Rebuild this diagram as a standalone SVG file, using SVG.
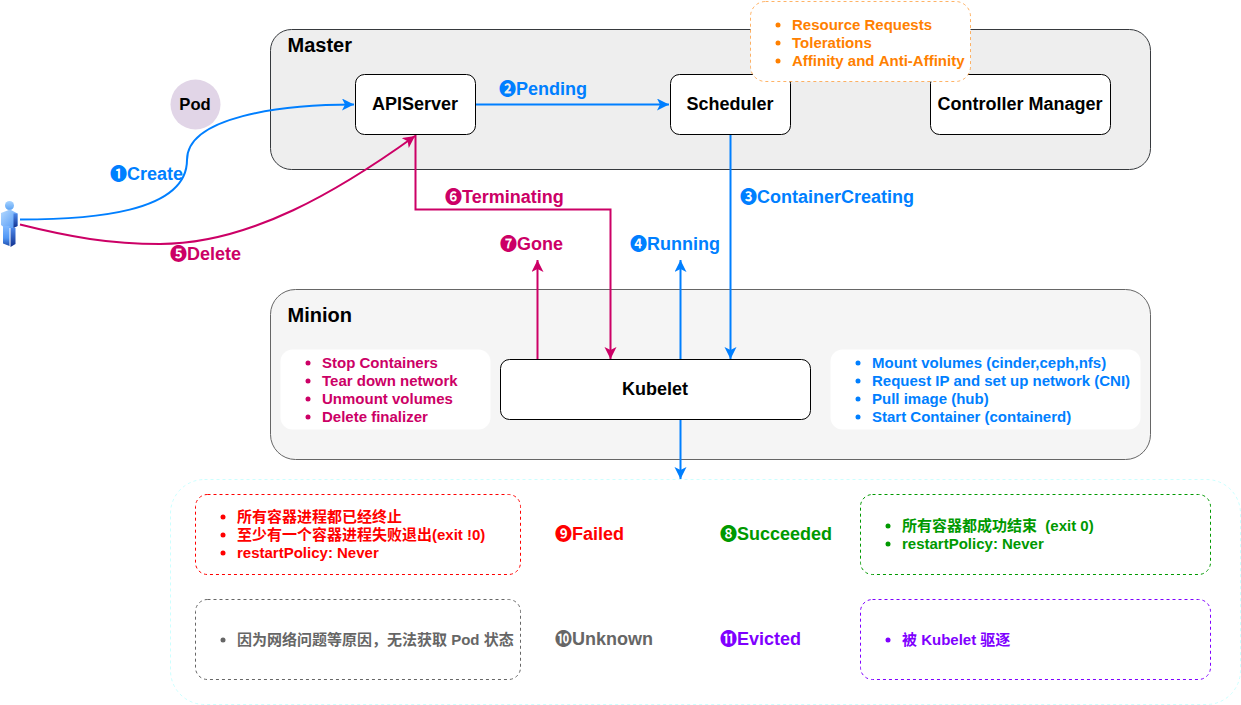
<svg xmlns="http://www.w3.org/2000/svg" width="1241" height="705" viewBox="0 0 1241 705">
<style>
text{font-family:"Liberation Sans","Noto Sans CJK SC",sans-serif;font-weight:bold}
.box{fill:#fff;stroke:#000;stroke-width:1}
.t{font-size:18px;text-anchor:middle;fill:#000}
.h{font-size:20px;fill:#000}
.l{font-size:18px}
.n{font-size:17px;font-family:"Noto Sans CJK SC",sans-serif}
.li{font-size:15px}
.c{fill:none;stroke-width:2}
.blue{fill:#007FFF}.pink{fill:#CC0066}.red{fill:#FF0000}.green{fill:#009900}.gray{fill:#666666}.purple{fill:#7F00FF}.orange{fill:#FF8000}
</style>
<defs>
<marker id="ab" markerUnits="userSpaceOnUse" markerWidth="14" markerHeight="14" refX="12" refY="6" orient="auto"><path d="M0 0L12 6L0 12L3 6Z" fill="#007FFF"/></marker>
<marker id="ap" markerUnits="userSpaceOnUse" markerWidth="14" markerHeight="14" refX="12" refY="6" orient="auto"><path d="M0 0L12 6L0 12L3 6Z" fill="#CC0066"/></marker>
<linearGradient id="pg" x1="0" y1="0" x2="1" y2="1"><stop offset="0" stop-color="#B5DAFF"/><stop offset="1" stop-color="#4F96F5"/></linearGradient>
<linearGradient id="pd" x1="0" y1="0" x2="0" y2="1"><stop offset="0" stop-color="#4C86E8"/><stop offset="1" stop-color="#10308F"/></linearGradient>
<linearGradient id="pl" x1="0" y1="0" x2="0" y2="1"><stop offset="0" stop-color="#7FB8FF"/><stop offset=".6" stop-color="#4F96F5"/><stop offset="1" stop-color="#2050B0"/></linearGradient>
<linearGradient id="ph" x1="0" y1="0" x2="0" y2="1"><stop offset="0" stop-color="#A9D4FF"/><stop offset="1" stop-color="#5BA3F5"/></linearGradient>
</defs>
<g id="master"><rect x="270.500" y="29.500" width="880" height="140" rx="21" fill="#eeeeee" stroke="#36393d"/><text class="h" x="287.500" y="52">Master</text></g>
<g id="minion"><rect x="270.500" y="289.500" width="880" height="170" rx="25" fill="#f5f5f5" stroke="#666666"/><text class="h" x="287.500" y="322">Minion</text></g>
<g id="pod"><circle cx="195.500" cy="104.500" r="25" fill="#e1d5e7"/><text x="195" y="110" class="t" style="font-size:16.600px">Pod</text></g>
<g id="user">
<circle cx="9.500" cy="205.500" r="4.500" fill="url(#ph)"/>
<path d="M1 213L10 209.500L17.500 213.500V226L13 228H5L1 225Z" fill="url(#pg)"/>
<path d="M13.500 213.500L17.500 213.500V226L13.500 228Z" fill="url(#pd)"/>
<path d="M3 226H9.500V246L3 243.500Z" fill="url(#pl)"/>
<path d="M10.500 228H15.500V244L10.500 247Z" fill="url(#pd)"/>
</g>
<g id="connectors">
<path class="c" stroke="#007FFF" d="M20 219.500C90 219.500 187 213 187 160C187 117 280 104.500 354 104.500" marker-end="url(#ab)"/>
<path class="c" stroke="#CC0066" d="M20 224.500C70 237 110 244 160 244C250 244 340 190 415 136" marker-end="url(#ap)"/>
<path class="c" stroke="#007FFF" d="M476 104.500H669" marker-end="url(#ab)"/>
<path class="c" stroke="#007FFF" d="M730.500 135V359" marker-end="url(#ab)"/>
<path class="c" stroke="#CC0066" d="M415.500 135V209.500H610.500V359" marker-end="url(#ap)"/>
<path class="c" stroke="#CC0066" d="M537.500 360V260" marker-end="url(#ap)"/>
<path class="c" stroke="#007FFF" d="M680.500 360V260" marker-end="url(#ab)"/>
<path class="c" stroke="#007FFF" d="M680.500 420V479" marker-end="url(#ab)"/>
</g>
<g id="apiserver"><rect class="box" x="355.500" y="74.500" width="120" height="60" rx="9"/><text class="t" x="415" y="110">APIServer</text></g>
<g id="scheduler"><rect class="box" x="670.500" y="74.500" width="120" height="60" rx="9"/><text class="t" x="730" y="110">Scheduler</text></g>
<g id="controller-manager"><rect class="box" x="930.500" y="74.500" width="180" height="60" rx="9"/><text class="t" x="1020" y="110">Controller Manager</text></g>
<g id="scheduler-notes"><rect x="750.500" y="1.500" width="220" height="80" rx="15" fill="#fff" stroke="#FF8000" stroke-opacity=".6" stroke-dasharray="3 3"/>
<g class="orange"><circle cx="778" cy="25" r="2.500"/><circle cx="778" cy="43" r="2.500"/><circle cx="778" cy="61" r="2.500"/>
<text class="li orange" x="792" y="30">Resource Requests</text><text class="li orange" x="792" y="48">Tolerations</text><text class="li orange" x="792" y="66" style="font-kerning:none">Affinity and Anti-Affinity</text></g></g>
<g id="kubelet"><rect class="box" x="500.500" y="359.500" width="310" height="60" rx="9"/><text class="t" x="655" y="395">Kubelet</text></g>
<g id="stop-list"><rect x="280.500" y="349.500" width="210" height="80" rx="12" fill="#fff"/>
<g class="pink"><circle cx="308" cy="363" r="2.500"/><circle cx="308" cy="381" r="2.500"/><circle cx="308" cy="399" r="2.500"/><circle cx="308" cy="417" r="2.500"/>
<text class="li" x="322" y="368">Stop Containers</text><text class="li" x="322" y="386">Tear down network</text><text class="li" x="322" y="404">Unmount volumes</text><text class="li" x="322" y="422">Delete finalizer</text></g></g>
<g id="start-list"><rect x="830.500" y="349.500" width="310" height="80" rx="12" fill="#fff"/>
<g class="blue"><circle cx="858" cy="363" r="2.500"/><circle cx="858" cy="381" r="2.500"/><circle cx="858" cy="399" r="2.500"/><circle cx="858" cy="417" r="2.500"/>
<text class="li" x="872" y="368">Mount volumes (cinder,ceph,nfs)</text><text class="li" x="872" y="386">Request IP and set up network (CNI)</text><text class="li" x="872" y="404">Pull image (hub)</text><text class="li" x="872" y="422">Start Container (containerd)</text></g></g>
<g id="phases"><rect x="170.500" y="479.500" width="1070" height="225" rx="34" fill="#fff" stroke="#ccffff" stroke-dasharray="3 3"/></g>
<g id="failed-box"><rect x="195.500" y="494.500" width="325" height="80" rx="12" fill="#fff" stroke="#FF0000" stroke-dasharray="3 3"/>
<g class="red"><circle cx="223" cy="517" r="2.500"/><circle cx="223" cy="535" r="2.500"/><circle cx="223" cy="553" r="2.500"/>
<text class="li" x="237" y="522">所有容器进程都已经终止</text><text class="li" x="237" y="540">至少有一个容器进程失败退出(exit !0)</text><text class="li" x="237" y="558">restartPolicy: Never</text></g></g>
<g id="unknown-box"><rect x="195.500" y="599.500" width="325" height="80" rx="12" fill="#fff" stroke="#666666" stroke-dasharray="3 3"/>
<g class="gray"><circle cx="223" cy="640" r="2.500"/><text class="li" x="237" y="645">因为网络问题等原因，无法获取 Pod 状态</text></g></g>
<g id="succeeded-box"><rect x="860.500" y="494.500" width="350" height="80" rx="12" fill="#fff" stroke="#009900" stroke-dasharray="3 3"/>
<g class="green"><circle cx="888" cy="526" r="2.500"/><circle cx="888" cy="544" r="2.500"/>
<text class="li" x="902" y="531" xml:space="preserve">所有容器都成功结束  (exit 0)</text><text class="li" x="902" y="549">restartPolicy: Never</text></g></g>
<g id="evicted-box"><rect x="860.500" y="599.500" width="350" height="80" rx="12" fill="#fff" stroke="#7F00FF" stroke-dasharray="3 3"/>
<g class="purple"><circle cx="888" cy="640" r="2.500"/><text class="li" x="902" y="645">被 Kubelet 驱逐</text></g></g>
<g id="labels">
<text class="l blue" x="110" y="180"><tspan class="n">❶</tspan>Create</text>
<text class="l pink" x="170" y="260"><tspan class="n">❺</tspan>Delete</text>
<text class="l blue" x="499" y="95"><tspan class="n">❷</tspan>Pending</text>
<text class="l blue" x="740" y="203"><tspan class="n">❸</tspan>ContainerCreating</text>
<text class="l pink" x="445" y="203"><tspan class="n">❻</tspan>Terminating</text>
<text class="l pink" x="500" y="250"><tspan class="n">❼</tspan>Gone</text>
<text class="l blue" x="630" y="250"><tspan class="n">❹</tspan>Running</text>
<text class="l red" x="555" y="540"><tspan class="n">❾</tspan>Failed</text>
<text class="l green" x="720" y="540"><tspan class="n">❽</tspan>Succeeded</text>
<text class="l gray" x="555" y="645"><tspan class="n">❿</tspan>Unknown</text>
<text class="l purple" x="720" y="645"><tspan class="n">⓫</tspan>Evicted</text>
</g>
</svg>
